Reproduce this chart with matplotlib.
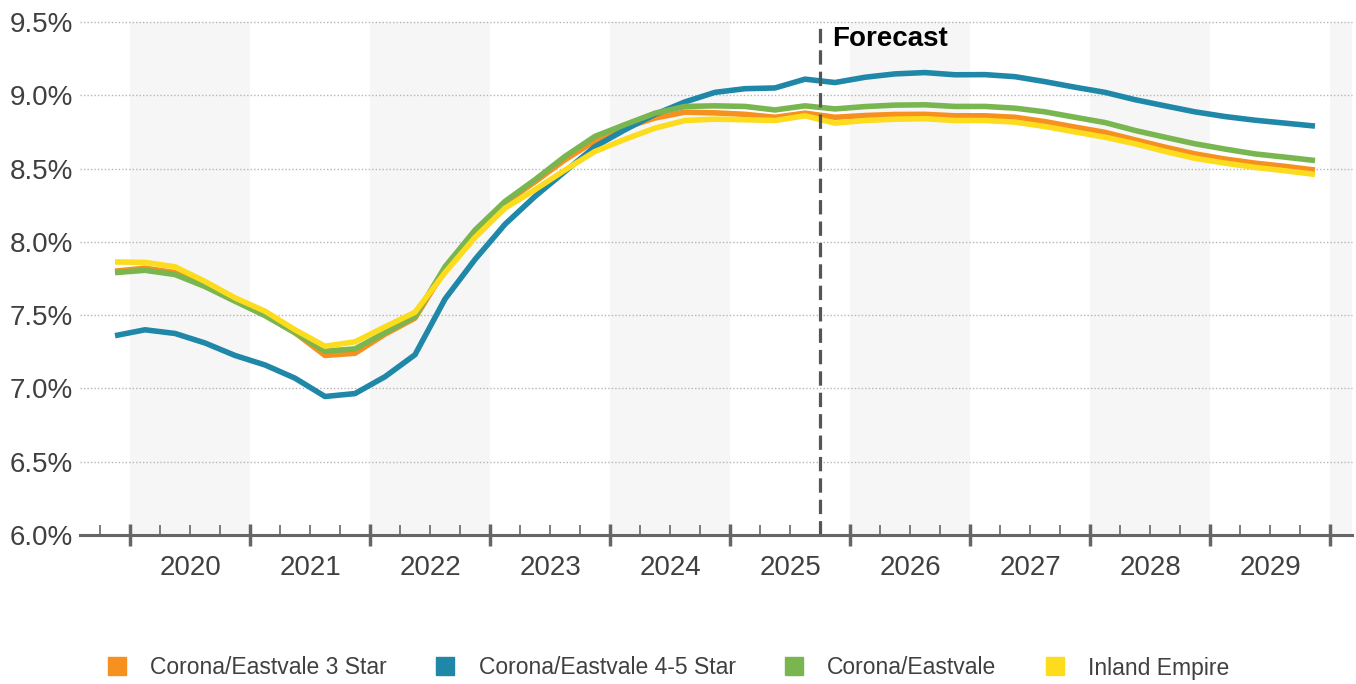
import matplotlib
matplotlib.use("Agg")
import matplotlib.pyplot as plt
from matplotlib.lines import Line2D
from matplotlib.ticker import FixedLocator, NullFormatter, FuncFormatter

plt.rcParams["font.family"] = ["Liberation Sans", "DejaVu Sans"]

# Quarterly periods, 2019 Q4 through 2029 Q4
periods = [(2019, 4)] + [(y, q) for y in range(2020, 2030) for q in (1, 2, 3, 4)]

series_names = ["Corona/Eastvale 3 Star", "Corona/Eastvale 4-5 Star",
                "Corona/Eastvale", "Inland Empire"]

star3 = [7.80, 7.82, 7.79, 7.70, 7.60, 7.50, 7.38, 7.225, 7.24, 7.37, 7.48,
         7.81, 8.07, 8.265, 8.41, 8.56, 8.69, 8.78, 8.845, 8.885, 8.88, 8.87,
         8.85, 8.878, 8.85, 8.862, 8.869, 8.87, 8.86, 8.86, 8.85, 8.82, 8.783,
         8.747, 8.696, 8.646, 8.60, 8.565, 8.537, 8.515, 8.49]

star45 = [7.36, 7.40, 7.375, 7.31, 7.225, 7.16, 7.07, 6.945, 6.965, 7.08, 7.23,
          7.61, 7.88, 8.12, 8.31, 8.48, 8.65, 8.765, 8.87, 8.955, 9.02, 9.045,
          9.05, 9.11, 9.087, 9.123, 9.146, 9.155, 9.14, 9.141, 9.127, 9.093,
          9.055, 9.02, 8.97, 8.928, 8.887, 8.855, 8.83, 8.81, 8.79]

submarket = [7.79, 7.806, 7.777, 7.695, 7.595, 7.497, 7.38, 7.254, 7.27, 7.38,
             7.49, 7.83, 8.08, 8.276, 8.424, 8.583, 8.72, 8.80, 8.878, 8.924,
             8.928, 8.924, 8.90, 8.928, 8.907, 8.923, 8.933, 8.935, 8.924,
             8.924, 8.912, 8.887, 8.85, 8.814, 8.76, 8.714, 8.669, 8.633, 8.60,
             8.578, 8.555]

market = [7.863, 7.86, 7.83, 7.73, 7.618, 7.527, 7.40, 7.288, 7.318, 7.42,
          7.52, 7.79, 8.03, 8.23, 8.356, 8.49, 8.617, 8.70, 8.776, 8.828,
          8.837, 8.833, 8.828, 8.86, 8.81, 8.828, 8.837, 8.84, 8.828, 8.828,
          8.817, 8.787, 8.75, 8.714, 8.669, 8.617, 8.57, 8.537, 8.508, 8.485,
          8.46]

colors = ["#F6901E", "#1F87A7", "#79B64F", "#FCDC1C"]
year_labels = list(range(2020, 2030))
forecast_start = 2025.75
y_ticks = [6.0, 6.5, 7.0, 7.5, 8.0, 8.5, 9.0, 9.5]

x = [y + (q - 0.5) / 4.0 for y, q in periods]

fig = plt.figure(figsize=(13.56, 6.84), dpi=100)
ax = fig.add_axes([80 / 1356, (684 - 535) / 684, 1272 / 1356, 513 / 684])

x_min, x_max = 2019.5833, 2030.1833
ax.set_xlim(x_min, x_max)
ax.set_ylim(6.0, 9.5)

# alternating year shading
for yr in range(2020, 2031, 2):
    ax.axvspan(yr, min(yr + 1, x_max), color="#F6F6F6", zorder=0, lw=0)

# dotted horizontal gridlines
for v in y_ticks[1:]:
    ax.axhline(v, color="#B5B5B5", lw=1.0, ls=(0, (1, 1.5)), zorder=1,
               clip_on=False)

for vals, c in zip([star3, star45, submarket, market], colors):
    ax.plot(x, vals, color=c, lw=4.0, solid_joinstyle="round",
            solid_capstyle="butt", zorder=3)

# forecast divider
ax.axvline(forecast_start, color="#555555", lw=2.3, ls=(0, (4.5, 2.2)),
           zorder=4)
ax.text(forecast_start + 0.105, 9.336, "Forecast", fontsize=20,
        fontweight="bold", color="#000000", ha="left", va="baseline",
        zorder=5)

for s in ("top", "right", "left"):
    ax.spines[s].set_visible(False)
ax.spines["bottom"].set_color("#666666")
ax.spines["bottom"].set_linewidth(2.2)
ax.spines["bottom"].set_zorder(6)

ax.set_yticks(y_ticks)
ax.yaxis.set_major_formatter(FuncFormatter(lambda v, p: f"{v:.1f}%"))
ax.tick_params(axis="y", length=0, pad=5, labelsize=20, labelcolor="#404040")

major = list(range(2020, 2031))
minor = [q for q in [2019.75 + 0.25 * k for k in range(41)]
         if abs(q - round(q)) > 1e-6]
ax.xaxis.set_major_locator(FixedLocator(major))
ax.xaxis.set_minor_locator(FixedLocator(minor))
ax.xaxis.set_major_formatter(NullFormatter())
ax.xaxis.set_minor_formatter(NullFormatter())
ax.tick_params(axis="x", which="major", direction="inout", length=16,
               width=2.5, color="#666666")
ax.tick_params(axis="x", which="minor", direction="in", length=7,
               width=1.2, color="#666666")

for yr in year_labels:
    ax.text(yr + 0.5, -33 / 513, str(yr), transform=ax.get_xaxis_transform(),
            ha="center", va="center", fontsize=20, color="#404040")

handles = [Line2D([], [], ls="none", marker="s", markersize=13.5,
                  markerfacecolor=c, markeredgecolor=c) for c in colors]
fig.legend(handles, series_names, loc="center", ncol=4, frameon=False,
           bbox_to_anchor=(668 / 1356, 1 - 668 / 684), fontsize=16.5,
           handlelength=0.9, handletextpad=1.0, columnspacing=2.1,
           borderpad=0, labelcolor="#404040")

fig.savefig("out.png", dpi=100)
